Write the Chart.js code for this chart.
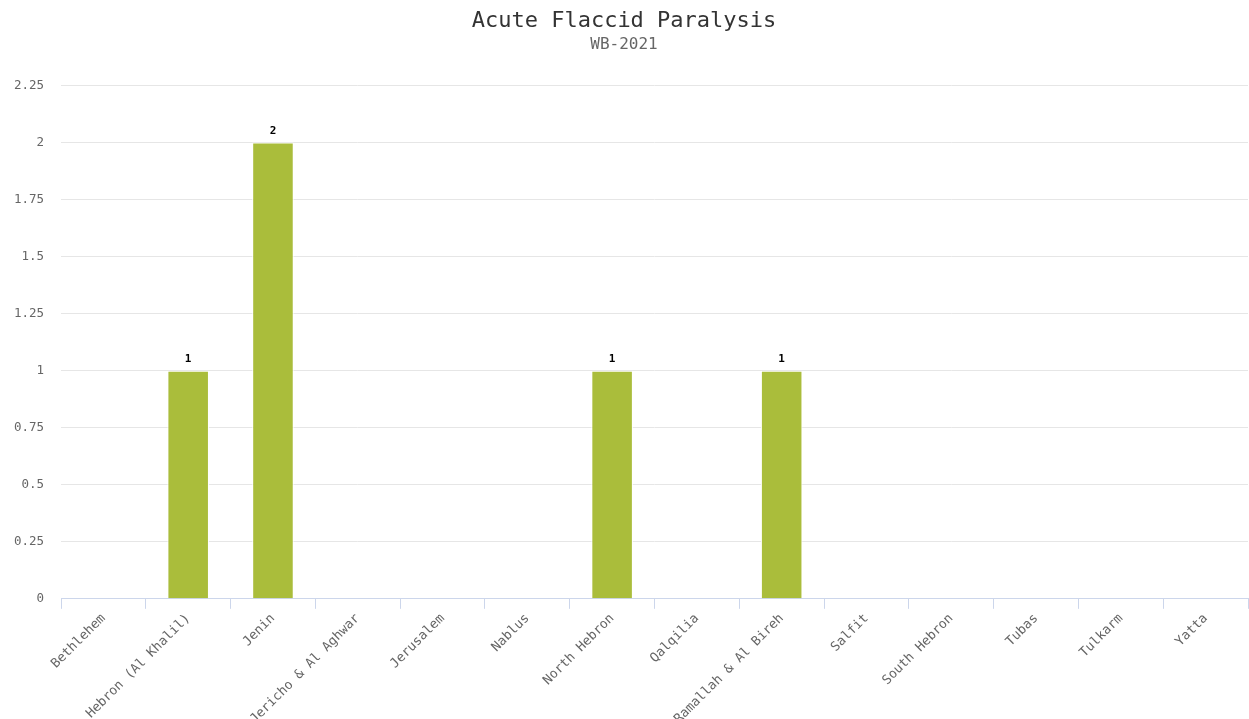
<!DOCTYPE html>
<html>
<head>
<meta charset="utf-8">
<title>Acute Flaccid Paralysis</title>
<script src="https://cdn.jsdelivr.net/npm/chart.js@4"></script>
<style>
  html, body { margin: 0; padding: 0; background: #fff; overflow: hidden; }
  #wrap { width: 1266px; height: 729px; }
</style>
</head>
<body>
<div id="wrap"><canvas id="grafico" width="1266" height="729"></canvas></div>
<script>
var districts = ["Bethlehem", "Hebron (Al Khalil)", "Jenin", "Jericho & Al Aghwar", "Jerusalem",
  "Nablus", "North Hebron", "Qalqilia", "Ramallah & Al Bireh", "Salfit", "South Hebron",
  "Tubas", "Tulkarm", "Yatta"];
var cases = [0, 1, 2, 0, 0, 0, 1, 0, 1, 0, 0, 0, 0, 0];
var yTicks = [0, 0.25, 0.5, 0.75, 1, 1.25, 1.5, 1.75, 2, 2.25];

var mono = "'DejaVu Sans Mono', monospace";

// numbers on top of each bar
var valueLabels = {
  id: 'valueLabels',
  afterDatasetsDraw: function(chart){
    var ctx = chart.ctx;
    var meta = chart.getDatasetMeta(0);
    ctx.save();
    ctx.font = "bold 11px " + mono;
    ctx.fillStyle = "#000";
    ctx.textAlign = "center";
    ctx.textBaseline = "bottom";
    meta.data.forEach(function(bar, i){
      var v = chart.data.datasets[0].data[i];
      if(v > 0){
        ctx.fillText(v, bar.x, bar.y - 6);
      }
    });
    ctx.restore();
  }
};

var grafico = new Chart(document.getElementById("grafico"), {
  type: 'bar',
  data: {
    labels: districts,
    datasets: [{
      label: "Acute Flaccid Paralysis",
      data: cases,
      backgroundColor: "#aabd3b",
      borderColor: "#ffffff",
      borderWidth: 1,
      barPercentage: 0.49,
      categoryPercentage: 1
    }]
  },
  options: {
    responsive: false,
    animation: false,
    layout: { autoPadding: false, padding: { left: 0, right: 18, top: 0, bottom: 0 } },
    plugins: {
      legend: { display: false },
      tooltip: { enabled: false },
      title: {
        display: true,
        text: "Acute Flaccid Paralysis",
        color: "#333",
        font: { family: mono, size: 22, weight: 'normal' },
        padding: { top: 8, bottom: 1 }
      },
      subtitle: {
        display: true,
        text: "WB-2021",
        color: "#666",
        font: { family: mono, size: 16 },
        padding: { top: 0, bottom: 31 }
      }
    },
    scales: {
      x: {
        offset: true,
        grid: {
          offset: true,
          drawOnChartArea: false,
          color: "#ccd6eb",
          tickLength: 10
        },
        border: { color: "#ccd6eb" },
        ticks: {
          color: "#666",
          font: { family: mono, size: 13 },
          minRotation: 45,
          maxRotation: 45,
          autoSkip: false,
          padding: 2
        }
      },
      y: {
        min: 0,
        max: 2.25,
        afterBuildTicks: function(axis){
          axis.ticks = yTicks.map(function(v){ return { value: v }; });
        },
        // fixed gutter for the value labels
        afterFit: function(axis){
          axis.width = 61;
        },
        grid: { color: "#e6e6e6", drawTicks: false },
        border: { display: false },
        ticks: {
          color: "#666",
          font: { family: mono, size: 12.5 },
          padding: 17,
          callback: function(value){ return String(value); }
        }
      }
    }
  },
  plugins: [valueLabels]
});
</script>
</body>
</html>
